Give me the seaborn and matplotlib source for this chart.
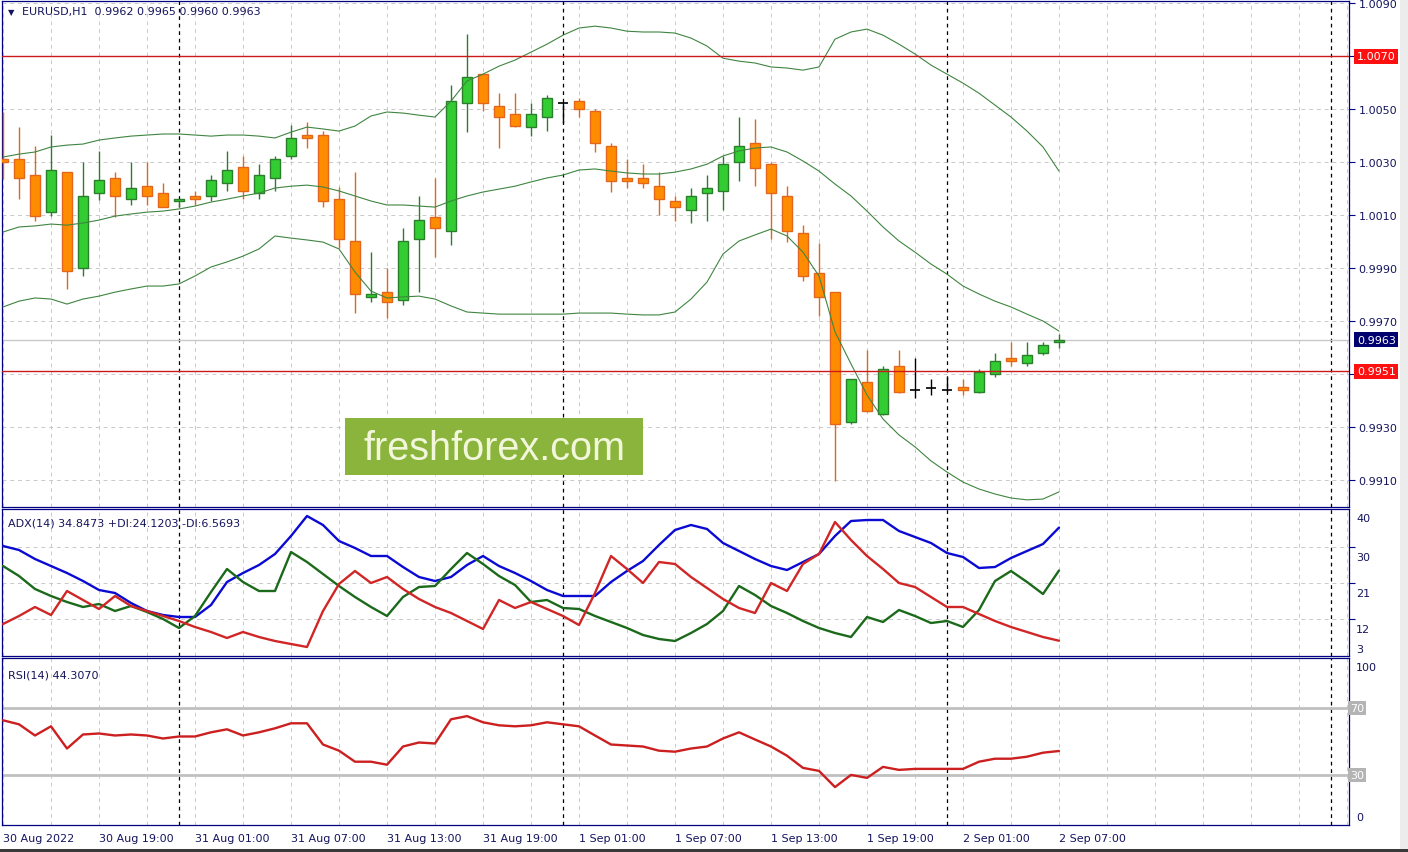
import numpy as np
import pandas as pd
import seaborn as sns
import matplotlib.pyplot as plt
from matplotlib.patches import Rectangle

# EURUSD H1, 30 Aug 2022 13:00 .. 2 Sep 2022 07:00 (one bar per hour)
opens = [1.00311, 1.00311, 1.00251, 1.00111, 1.00262, 0.99900, 1.00183, 1.00240, 1.00160, 1.00209,
         1.00183, 1.00153, 1.00172, 1.00172, 1.00221, 1.00281, 1.00183, 1.00240, 1.00323, 1.00402,
         1.00402, 1.00160, 1.00002, 0.99791, 0.99809, 0.99779, 1.00009, 1.00092, 1.00040, 1.00523,
         1.00632, 1.00511, 1.00481, 1.00432, 1.00470, 1.00523, 1.00530, 1.00492, 1.00360, 1.00240,
         1.00240, 1.00209, 1.00153, 1.00119, 1.00183, 1.00191, 1.00300, 1.00372, 1.00292, 1.00172,
         1.00032, 0.99881, 0.99809, 0.99319, 0.99470, 0.99349, 0.99530, 0.99440, 0.99447, 0.99440,
         0.99451, 0.99432, 0.99500, 0.99560, 0.99542, 0.99579, 0.99620]
highs = [1.00489, 1.00432, 1.00360, 1.00402, 1.00262, 1.00300, 1.00342, 1.00262, 1.00300, 1.00300,
         1.00221, 1.00162, 1.00191, 1.00251, 1.00342, 1.00323, 1.00292, 1.00323, 1.00440, 1.00451,
         1.00417, 1.00206, 1.00262, 0.99960, 0.99900, 1.00051, 1.00172, 1.00240, 1.00591, 1.00783,
         1.00632, 1.00560, 1.00560, 1.00523, 1.00553, 1.00525, 1.00542, 1.00500, 1.00372, 1.00311,
         1.00292, 1.00262, 1.00172, 1.00202, 1.00251, 1.00323, 1.00470, 1.00462, 1.00300, 1.00209,
         1.00062, 0.99994, 0.99809, 0.99483, 0.99591, 0.99530, 0.99591, 0.99560, 0.99481, 0.99489,
         0.99481, 0.99519, 0.99579, 0.99621, 0.99621, 0.99621, 0.99650]
lows = [1.00236, 1.00160, 1.00077, 1.00096, 0.99821, 0.99870, 1.00157, 1.00092, 1.00138, 1.00138,
        1.00130, 1.00130, 1.00138, 1.00153, 1.00191, 1.00160, 1.00160, 1.00191, 1.00311, 1.00353,
        1.00130, 0.99975, 0.99730, 0.99772, 0.99711, 0.99760, 0.99809, 0.99942, 0.99987, 1.00413,
        1.00492, 1.00353, 1.00432, 1.00398, 1.00417, 1.00447, 1.00470, 1.00338, 1.00187, 1.00202,
        1.00202, 1.00100, 1.00077, 1.00070, 1.00077, 1.00119, 1.00228, 1.00209, 1.00009, 0.99998,
        0.99851, 0.99719, 0.99096, 0.99311, 0.99358, 0.99347, 0.99430, 0.99409, 0.99421, 0.99432,
        0.99421, 0.99430, 0.99489, 0.99530, 0.99530, 0.99572, 0.99600]
closes = [1.00300, 1.00240, 1.00096, 1.00270, 0.99889, 1.00172, 1.00232, 1.00172, 1.00202, 1.00172,
          1.00130, 1.00160, 1.00160, 1.00232, 1.00270, 1.00191, 1.00251, 1.00311, 1.00391, 1.00391,
          1.00153, 1.00009, 0.99802, 0.99802, 0.99772, 1.00002, 1.00081, 1.00051, 1.00530, 1.00621,
          1.00523, 1.00470, 1.00436, 1.00481, 1.00542, 1.00523, 1.00500, 1.00372, 1.00228, 1.00228,
          1.00221, 1.00160, 1.00130, 1.00172, 1.00202, 1.00292, 1.00360, 1.00277, 1.00183, 1.00040,
          0.99870, 0.99791, 0.99311, 0.99481, 0.99360, 0.99519, 0.99432, 0.99440, 0.99447, 0.99440,
          0.99440, 0.99508, 0.99549, 0.99549, 0.99572, 0.99609, 0.99630]

bb_upper = [1.00319, 1.00330, 1.00338, 1.00357, 1.00364, 1.00368, 1.00383, 1.00391, 1.00398, 1.00402,
            1.00406, 1.00406, 1.00402, 1.00398, 1.00402, 1.00402, 1.00398, 1.00391, 1.00413, 1.00432,
            1.00425, 1.00417, 1.00436, 1.00474, 1.00489, 1.00485, 1.00477, 1.00470, 1.00530, 1.00606,
            1.00632, 1.00662, 1.00685, 1.00715, 1.00745, 1.00779, 1.00806, 1.00813, 1.00806, 1.00794,
            1.00791, 1.00791, 1.00787, 1.00768, 1.00738, 1.00692, 1.00681, 1.00674, 1.00659, 1.00655,
            1.00647, 1.00659, 1.00764, 1.00791, 1.00802, 1.00779, 1.00745, 1.00708, 1.00666, 1.00632,
            1.00598, 1.00560, 1.00515, 1.00470, 1.00417, 1.00357, 1.00266]
bb_middle = [1.00036, 1.00055, 1.00059, 1.00066, 1.00062, 1.00070, 1.00081, 1.00096, 1.00104, 1.00111,
             1.00115, 1.00123, 1.00134, 1.00149, 1.00160, 1.00172, 1.00183, 1.00202, 1.00209, 1.00213,
             1.00206, 1.00191, 1.00172, 1.00153, 1.00138, 1.00138, 1.00134, 1.00130, 1.00153, 1.00172,
             1.00187, 1.00198, 1.00209, 1.00225, 1.00240, 1.00251, 1.00270, 1.00274, 1.00266, 1.00259,
             1.00255, 1.00255, 1.00262, 1.00274, 1.00292, 1.00323, 1.00342, 1.00353, 1.00357, 1.00338,
             1.00304, 1.00266, 1.00217, 1.00172, 1.00115, 1.00055, 1.00002, 0.99960, 0.99915, 0.99877,
             0.99832, 0.99802, 0.99775, 0.99753, 0.99726, 0.99700, 0.99662]
bb_lower = [0.99753, 0.99775, 0.99787, 0.99783, 0.99764, 0.99783, 0.99794, 0.99809, 0.99821, 0.99832,
            0.99832, 0.99840, 0.99870, 0.99904, 0.99923, 0.99945, 0.99972, 1.00021, 1.00013, 1.00006,
            0.99998, 0.99972, 0.99885, 0.99813, 0.99787, 0.99791, 0.99794, 0.99783, 0.99757, 0.99734,
            0.99730, 0.99726, 0.99726, 0.99726, 0.99726, 0.99726, 0.99730, 0.99730, 0.99730, 0.99726,
            0.99723, 0.99723, 0.99734, 0.99783, 0.99847, 0.99953, 1.00002, 1.00025, 1.00047, 1.00021,
            0.99960, 0.99870, 0.99659, 0.99538, 0.99421, 0.99330, 0.99270, 0.99225, 0.99172, 0.99130,
            0.99092, 0.99066, 0.99047, 0.99032, 0.99025, 0.99028, 0.99055]

adx = [30.25, 29.25, 27.0, 25.25, 23.5, 21.5, 19.25, 18.5, 16.0, 14.0,
       13.0, 12.5, 12.5, 15.5, 21.25, 23.5, 25.5, 28.25, 32.75, 37.75,
       35.5, 31.5, 29.75, 27.75, 27.75, 25.0, 22.5, 21.5, 22.5, 25.5,
       27.75, 25.25, 23.5, 21.5, 19.25, 17.75, 17.75, 17.75, 21.25, 24.0,
       26.5, 30.5, 34.25, 35.5, 34.5, 31.0, 29.0, 27.0, 25.25, 24.25,
       26.25, 28.25, 32.75, 36.5, 36.75, 36.75, 34.0, 32.5, 31.0, 28.5,
       27.5, 24.75, 25.0, 27.25, 29.0, 30.75, 34.85]
plus_di = [25.25, 22.75, 19.5, 17.75, 16.25, 15.0, 15.75, 14.0, 15.25, 13.75,
           12.0, 9.75, 12.75, 18.75, 24.5, 21.25, 19.0, 19.0, 28.75, 26.25,
           23.25, 20.25, 17.5, 15.0, 12.75, 17.5, 20.0, 20.25, 24.5, 28.5,
           25.75, 22.75, 20.5, 16.25, 16.75, 14.75, 14.5, 12.75, 11.25, 9.75,
           8.0, 7.0, 6.5, 8.5, 10.75, 14.0, 20.25, 18.0, 15.25, 13.5,
           11.5, 9.75, 8.5, 7.5, 12.5, 11.25, 14.25, 12.75, 11.0, 11.5,
           10.0, 14.25, 21.5, 24.0, 21.25, 18.25, 24.12]
minus_di = [10.75, 12.75, 15.0, 13.0, 19.0, 16.75, 14.5, 17.75, 15.25, 14.0,
            12.75, 11.5, 10.0, 8.75, 7.25, 8.75, 7.5, 6.5, 5.75, 5.0,
            14.0, 20.75, 24.0, 21.0, 22.5, 19.5, 17.0, 15.0, 13.5, 11.5,
            9.5, 16.75, 14.75, 16.25, 14.5, 12.75, 10.5, 18.5, 27.75, 24.5,
            21.0, 26.25, 25.75, 22.5, 19.75, 17.0, 14.75, 13.5, 21.0, 19.0,
            25.75, 28.25, 36.25, 31.75, 27.75, 24.5, 21.0, 20.0, 17.5, 15.0,
            15.0, 13.25, 11.5, 10.0, 8.75, 7.5, 6.57]
rsi = [62.7, 60.3, 53.6, 59.1, 45.8, 54.2, 54.8, 53.6, 54.2, 53.6,
       51.8, 53.0, 53.0, 55.5, 57.3, 53.6, 55.5, 57.9, 60.9, 60.9,
       48.2, 44.5, 37.9, 37.9, 36.1, 47.0, 49.4, 48.8, 63.3, 65.2,
       61.5, 59.7, 59.1, 59.7, 61.5, 60.3, 59.1, 53.6, 48.2, 47.6,
       47.0, 44.5, 43.9, 45.8, 47.0, 51.8, 55.5, 51.2, 47.0, 41.5,
       34.2, 32.4, 22.7, 30.0, 28.2, 34.8, 33.0, 33.6, 33.6, 33.6,
       33.6, 37.9, 39.7, 39.7, 40.9, 43.3, 44.31]

time_labels = ["30 Aug 2022", "30 Aug 19:00", "31 Aug 01:00", "31 Aug 07:00", "31 Aug 13:00",
               "31 Aug 19:00", "1 Sep 01:00", "1 Sep 07:00", "1 Sep 13:00", "1 Sep 19:00",
               "2 Sep 01:00", "2 Sep 07:00"]
day_breaks = [11, 35, 59, 83]
levels = [1.0070, 0.9951]
bid = 0.9963
price_ticks = [0.9910, 0.9930, 0.9950, 0.9970, 0.9990, 1.0010, 1.0030, 1.0050, 1.0070, 1.0090]

bars = np.arange(len(opens))
df = pd.DataFrame({"bar": bars, "upper": bb_upper, "middle": bb_middle, "lower": bb_lower,
                   "adx": adx, "pdi": plus_di, "mdi": minus_di, "rsi": rsi})

sns.set_style("white")
plt.rcParams['font.family'] = ['DejaVu Sans']

NAVY = '#000080'
TXT = '#14145e'
GRID = '#c9c9c9'
UP, UP_EDGE = '#33cc33', '#2a7f2a'
DN, DN_EDGE = '#ff8c00', '#e2661c'
BAND = '#3f8540'

W, H = 1408, 853
fig = plt.figure(figsize=(W / 100, H / 100), dpi=100, facecolor='white')
ax = fig.add_axes([2 / W, 1 - 508 / H, 1347 / W, 506 / H])
ax2 = fig.add_axes([2 / W, 1 - 657 / H, 1347 / W, 147 / H])
ax3 = fig.add_axes([2 / W, 1 - 826 / H, 1347 / W, 167 / H])

xlim = (-1 / 16, 1346 / 16)
grid_x = np.arange(0, 85, 3)

for a in (ax, ax2, ax3):
    a.set_xlim(*xlim)
    for s in a.spines.values():
        s.set_color(NAVY)
        s.set_linewidth(0.9)
    for d in day_breaks:
        a.axvline(d, color='black', ls=(0, (3, 3)), lw=0.9, zorder=2)
    a.yaxis.tick_right()
    a.tick_params(axis='y', colors=NAVY, labelcolor=TXT, labelsize=8, length=4, direction='out', pad=3)

# ---- price panel ----
ax.set_xticks(grid_x)
ax.tick_params(axis='x', length=0, labelbottom=False)
ax.set_ylim(0.98998, 1.00908)
ax.set_yticks(price_ticks)
ax.set_yticklabels(["" if (abs(p - 0.9950) < 1e-6 or abs(p - 1.0070) < 1e-6) else f"{p:.4f}"
                    for p in price_ticks])
ax.grid(True, color=GRID, ls=(0, (4, 4)), lw=0.7)

for i in bars:
    o, h, l, c = opens[i], highs[i], lows[i], closes[i]
    if c > o:
        body, edge = UP, UP_EDGE
    elif c < o:
        body, edge = DN, DN_EDGE
    else:
        body, edge = None, 'black'
    ax.vlines(i, l, h, color=edge, lw=1.0, zorder=3)
    if body is None:
        ax.hlines(c, i - 0.34, i + 0.34, color='black', lw=1.2, zorder=4)
    else:
        ax.bar(i, abs(c - o), bottom=min(o, c), width=0.64, color=body,
               edgecolor=edge, linewidth=1.0, zorder=4)

for col in ("upper", "middle", "lower"):
    sns.lineplot(data=df, x="bar", y=col, ax=ax, color=BAND, lw=0.8, zorder=5)

ax.axhline(bid, color='#c8c8c8', lw=1, zorder=2.5)
for lv in levels:
    ax.axhline(lv, color='#cc1a1a', lw=1, zorder=6)

ytr = ax.get_yaxis_transform()
for lv in levels:
    ax.text(1.0058, lv, f"{lv:.4f}", transform=ytr, ha='left', va='center', fontsize=8,
            color='white', bbox=dict(boxstyle='square,pad=0.22', fc='#ff1010', ec='none'),
            clip_on=False)
ax.text(1.0058, bid, f"{bid:.4f}", transform=ytr, ha='left', va='center', fontsize=8,
        color='white', bbox=dict(boxstyle='square,pad=0.22', fc='#00006e', ec='none'),
        clip_on=False)

ax.text(0.0045, 0.988, "\u25bc", transform=ax.transAxes, fontsize=6, color=TXT, va='top')
ax.text(0.0145, 0.991, "EURUSD,H1  0.9962 0.9965 0.9960 0.9963", transform=ax.transAxes,
        fontsize=8, color=TXT, va='top')

# watermark
ax.add_patch(Rectangle((345 / W, 1 - 476 / H), 298 / W, 57 / H, transform=fig.transFigure,
                       fc='#8ab43c', ec='none', zorder=10, clip_on=False))
ax.text(495 / W, 1 - 449 / H, "freshforex.com", transform=fig.transFigure, ha='center',
        va='center', fontsize=28.5, color='#f2f7dc', family=['Liberation Sans'], zorder=11)

ax.set_xlabel("")
ax.set_ylabel("")

# ---- ADX panel ----
ax2.set_xticks(grid_x)
ax2.tick_params(axis='x', length=0, labelbottom=False)
ax2.set_ylim(2.75, 39.5)
ax2.set_yticks([30, 21, 12])
ax2.set_yticklabels([])
ax2.grid(True, color=GRID, ls=(0, (4, 4)), lw=0.7)
sns.lineplot(data=df, x="bar", y="adx", ax=ax2, color='#0a0ad2', lw=1.7, zorder=5)
sns.lineplot(data=df, x="bar", y="pdi", ax=ax2, color='#1b6a1b', lw=1.7, zorder=5)
sns.lineplot(data=df, x="bar", y="mdi", ax=ax2, color='#d02626', lw=1.7, zorder=5)
for v, dy in [(40, -11), (30, -10), (21, -10), (12, -10), (3, 6)]:
    ax2.annotate(str(v), xy=(1, v), xycoords=ax2.get_yaxis_transform(), xytext=(7, dy),
                 textcoords='offset pixels', ha='left', va='center', fontsize=8, color=TXT,
                 annotation_clip=False)
ax2.text(0.0045, 0.94, "ADX(14) 34.8473 +DI:24.1203 -DI:6.5693", transform=ax2.transAxes,
         fontsize=8, color=TXT, va='top')
ax2.set_xlabel("")
ax2.set_ylabel("")

# ---- RSI panel ----
ax3.set_ylim(0, 100)
ax3.set_yticks([])
label_pos = np.arange(0, len(time_labels) * 6, 6)
ax3.set_xticks(label_pos, labels=time_labels, ha='left')
ax3.set_xticks([x for x in grid_x if x not in label_pos], minor=True)
ax3.tick_params(axis='x', which='major', colors=NAVY, labelcolor=TXT, labelsize=8, length=4,
                direction='out', pad=2)
ax3.tick_params(axis='x', which='minor', length=0)
ax3.grid(True, which='both', axis='x', color=GRID, ls=(0, (4, 4)), lw=0.7)
for lv in (70, 30):
    ax3.axhline(lv, color='#c0c0c0', lw=2, zorder=2)
    ax3.text(1.0008, lv, str(lv), transform=ax3.get_yaxis_transform(), ha='left', va='center',
             fontsize=8, color='white', clip_on=False,
             bbox=dict(boxstyle='square,pad=0.2', fc='#b4b4b4', ec='none'))
sns.lineplot(data=df, x="bar", y="rsi", ax=ax3, color='#cc1f1f', lw=1.7, zorder=5)
for v, dy in [(100, -9), (0, 8)]:
    ax3.annotate(str(v), xy=(1, v), xycoords=ax3.get_yaxis_transform(), xytext=(7, dy),
                 textcoords='offset pixels', ha='left', va='center', fontsize=8, color=TXT,
                 annotation_clip=False)
ax3.text(0.0045, 0.93, "RSI(14) 44.3070", transform=ax3.transAxes, fontsize=8, color=TXT,
         va='top')
ax3.set_xlabel("")
ax3.set_ylabel("")

# window frame bits
fig.patches.append(Rectangle((1400 / W, 0), 8 / W, 1, transform=fig.transFigure,
                             fc='#ececec', ec='none'))
fig.patches.append(Rectangle((0, 0), 1, 3 / H, transform=fig.transFigure,
                             fc='#3a3a3a', ec='none'))

fig.savefig("out.png", dpi=100, facecolor='white')
